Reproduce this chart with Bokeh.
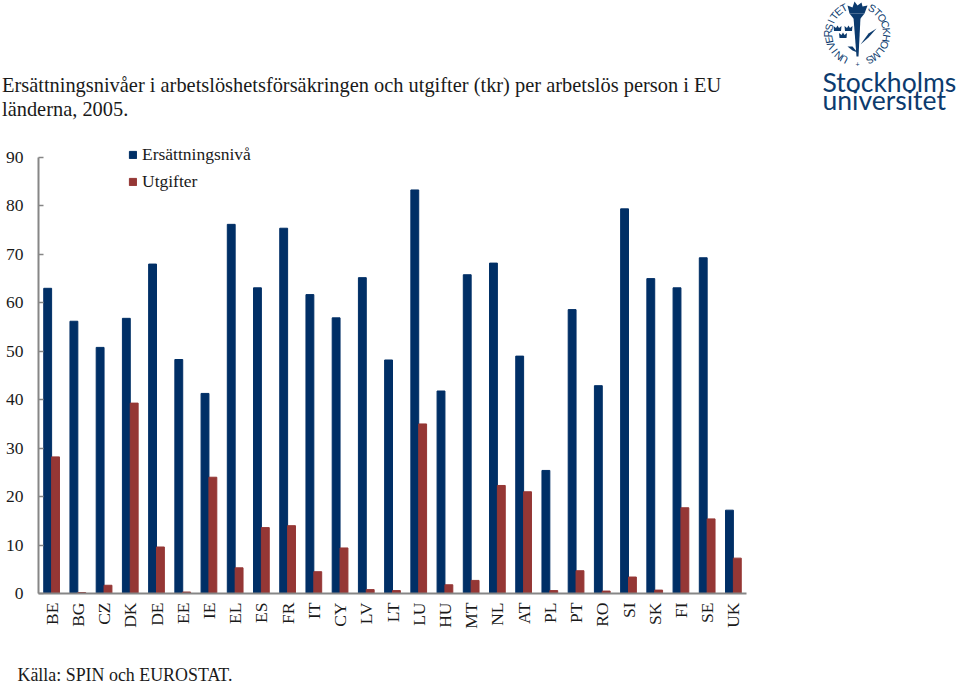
from bokeh.plotting import figure
from bokeh.models import Legend, LegendItem, FactorRange, Range1d, FixedTicker
from bokeh.core.properties import value
from bokeh.transform import dodge
from bokeh.embed import file_html
from bokeh.resources import INLINE
import math

countries = ["BE","BG","CZ","DK","DE","EE","IE","EL","ES","FR","IT","CY","LV","LT","LU","HU","MT","NL","AT","PL","PT","RO","SI","SK","FI","SE","UK"]
ersattning = [63,56.2,50.8,56.8,68,48.3,41.3,76.2,63.1,75.4,61.7,56.9,65.2,48.2,83.3,41.8,65.8,68.2,49,25.4,58.6,42.9,79.4,65,63.1,69.3,17.2]
utgifter = [28.2,0.2,1.7,39.3,9.6,0.3,24,5.3,13.6,14,4.5,9.4,0.8,0.6,35,1.8,2.7,22.3,21,0.6,4.7,0.5,3.4,0.7,17.7,15.4,7.3]
y_ticks = [0,10,20,30,40,50,60,70,80,90]
title_lines = ["Ersättningsnivåer i arbetslöshetsförsäkringen och utgifter (tkr) per arbetslös person i EU", "länderna, 2005."]
source = "Källa: SPIN och EUROSTAT."

NAVY = "#002f66"
RED = "#953735"
LOGO = "#0c3b6e"
W, H = 960, 684
L, R, T, B = 38, 746, 157, 593
FRAME_TOP = 130
Y_TOP = 90 * (B - FRAME_TOP) / (B - T)

p = figure(width=W, height=H, x_range=FactorRange(factors=countries, range_padding=0, factor_padding=0),
           y_range=Range1d(0, Y_TOP), output_backend="svg", toolbar_location=None,
           min_border_left=L, min_border_right=W-R, min_border_top=FRAME_TOP, min_border_bottom=H-B,
           background_fill_color="white", border_fill_color="white", outline_line_color=None)
p.styles = {"position": "absolute", "left": "0px", "top": "0px"}
p.xgrid.visible = False
p.ygrid.visible = False

data = dict(c=countries, a=ersattning, b=utgifter)
r1 = p.vbar(x=dodge("c", -0.15, range=p.x_range), top="a", width=0.3, color=NAVY, source=data)
r2 = p.vbar(x=dodge("c", 0.15, range=p.x_range), top="b", width=0.3, color=RED, source=data)

ya = p.yaxis[0]
ya.ticker = FixedTicker(ticks=y_ticks)
ya.bounds = (0, 90)
ya.major_tick_in = 5
ya.major_tick_out = 0
ya.minor_tick_line_color = None
ya.axis_line_color = "#868686"
ya.axis_line_width = 2
ya.major_tick_line_color = "#868686"
ya.major_tick_line_width = 1.5
ya.major_label_text_font = "Liberation Serif"
ya.major_label_text_font_size = "17.5px"
ya.major_label_text_color = "#1a1a1a"
ya.major_label_standoff = 15

xa = p.xaxis[0]
xa.major_tick_line_color = None
xa.minor_tick_line_color = None
xa.axis_line_color = "#868686"
xa.axis_line_width = 2
xa.major_label_orientation = math.pi / 2
xa.major_label_text_font = "Liberation Serif"
xa.major_label_text_font_size = "17.5px"
xa.major_label_text_color = "#1a1a1a"
xa.major_label_standoff = 3

legend = Legend(items=[LegendItem(label="Ersättningsnivå", renderers=[r1]), LegendItem(label="Utgifter", renderers=[r2])],
                location=(90, B - 145 - 47), orientation="vertical", background_fill_alpha=0, border_line_color=None,
                glyph_width=9, glyph_height=9, spacing=6, padding=0, margin=0, label_standoff=5,
                label_text_font="Liberation Serif", label_text_font_size="17.5px", label_text_color="#1a1a1a")
p.add_layout(legend)

# pixel placement through the chart's own scales, for the page's texts and logo
def dx(px): return (px - L) / (R - L) * len(countries)
def dy(py): return (B - py) / (B - T) * 90
SHIFT = 0.42  # the text glyph sits this many font sizes below the asked baseline

def label(x, y, text, size, font="Liberation Serif", color="#1a1a1a", angle=0, align="left"):
    p.text(x=[dx(x)], y=[dy(y)], text=[text], text_font=value(font), text_font_size=value(f"{size}px"),
           text_color=color, text_baseline="alphabetic", text_align=align, angle=angle, level="overlay")

label(1.5, 93 - SHIFT * 20.4, title_lines[0], 20.4)
label(1.5, 117 - SHIFT * 20.4, title_lines[1], 20.4)
label(17, 682 - SHIFT * 17.9, source, 17.9)
label(822, 92.5 - SHIFT * 26.5, "Stockholms", 26.5, font="Lato", color=LOGO)
label(822, 111 - SHIFT * 26.5, "universitet", 26.5, font="Lato", color=LOGO)

# circular seal lettering (clockwise from the top, tops facing outward)
cx, cy, fs = 857, 33, 10.5
rad = 25 + SHIFT * fs
def ring(word, start, end):
    n = len(word)
    for i, ch in enumerate(word):
        a = math.radians(start + (end - start) * i / (n - 1))
        label(cx + rad * math.sin(a), cy - rad * math.cos(a), ch, fs, font="Liberation Sans", color=LOGO,
              angle=-a, align="center")
ring("UNIVERSITET", 208, 332)
ring("STOCKHOLMS", 30, 155)
label(cx, cy + 31, "+", 7, font="Liberation Sans", color=LOGO, align="center")

def shape(pts):
    p.patch([dx(a) for a, _ in pts], [dy(b) for _, b in pts], color=LOGO, line_width=0, level="overlay")
shape([(853,17),(860,17),(858,56),(856,56)])
shape([(849,13),(864,13),(860,18),(853,18)])
shape([(849,13),(847,5),(852,7),(854,1),(857,5),(861,2),(862,6),(867,5),(864,13)])
for ccx, ccy in [(837,28),(848,28),(842.5,35)]:
    shape([(ccx-3.5,ccy+2.5),(ccx+3.5,ccy+2.5),(ccx+4,ccy-2.5),(ccx+1.5,ccy-0.5),(ccx,ccy-3),(ccx-1.5,ccy-0.5),(ccx-4,ccy-2.5)])
for a, b, c, d in [(860,44,876,28),(847,46,857,52)]:
    shape([(a,b),((a+c)/2,(b+d)/2-3),(c,d),((a+c)/2,(b+d)/2+1)])

open("out.html", "w").write(file_html(p, INLINE))
